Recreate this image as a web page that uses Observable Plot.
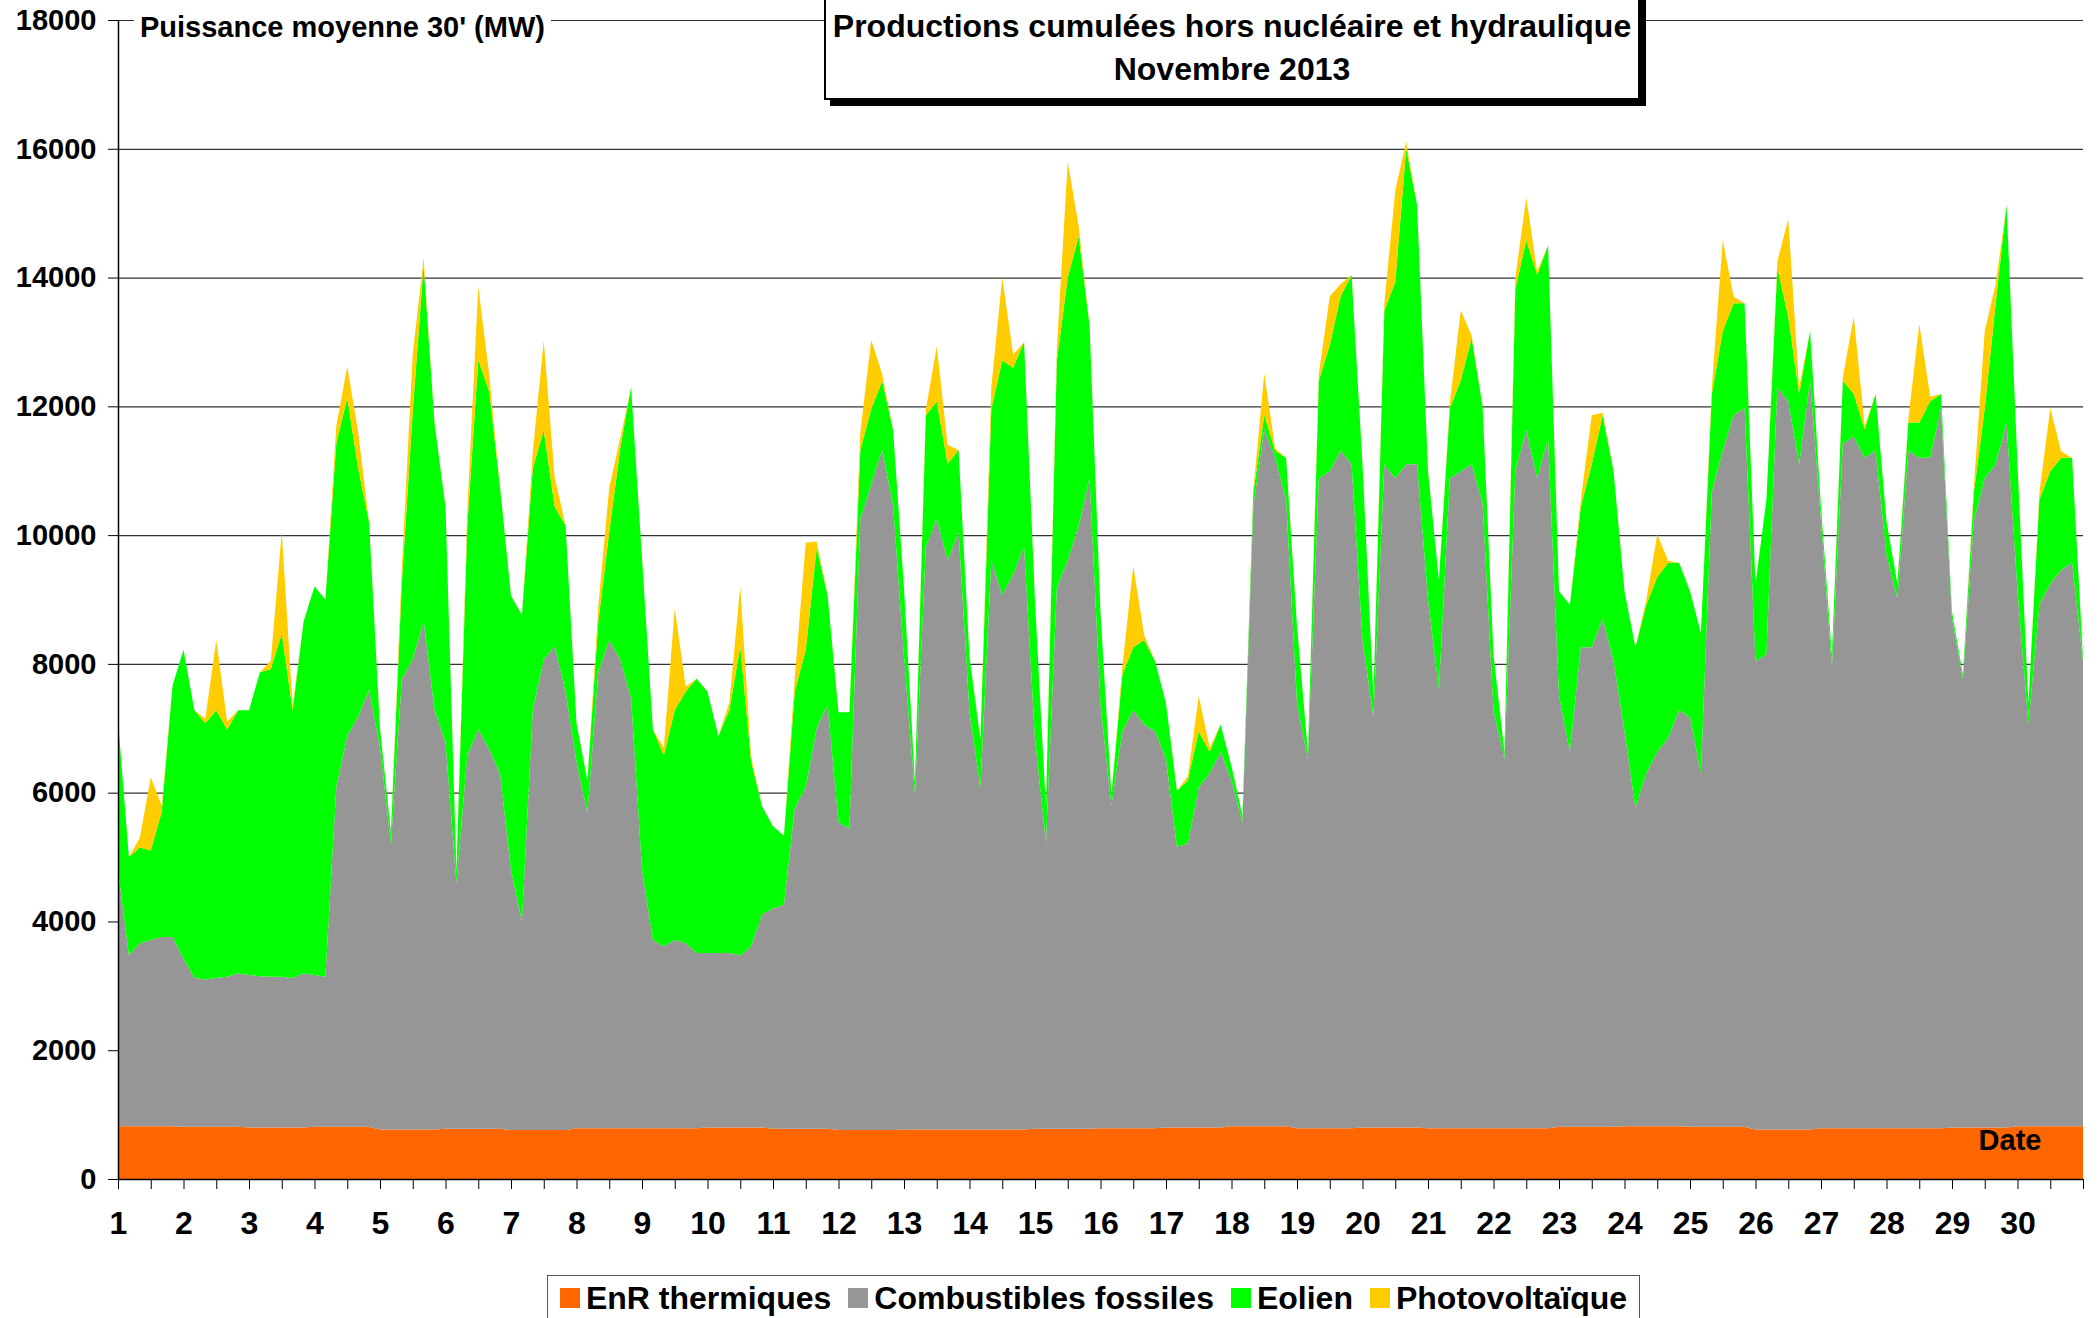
<!DOCTYPE html>
<html>
<head>
<meta charset="utf-8">
<script src="https://cdn.jsdelivr.net/npm/d3@7"></script>
<script src="https://cdn.jsdelivr.net/npm/@observablehq/plot@0.6"></script>
<style>
  html, body { margin: 0; padding: 0; background: #fff; }
  body { width: 2098px; height: 1318px; overflow: hidden; position: relative; font-family: "Liberation Sans", Arial, sans-serif; font-weight: bold; color: #000; }
  #chart { position: absolute; left: 0; top: 0; }
  .ov { position: absolute; white-space: nowrap; z-index: 2; }
  #ylab { left: 134px; top: 9px; font-size: 29px; line-height: 36px; background: #fff; padding: 0 6px; }
  #title { left: 824px; top: -10px; width: 816px; height: 110px; box-sizing: border-box; border: 2px solid #000; background: #fff; box-shadow: 6px 6px 0 #000; text-align: center; font-size: 32px; line-height: 43px; padding-top: 13px; }
  #date { left: 2010px; top: 1122px; transform: translateX(-50%); font-size: 29px; line-height: 36px; }
  #legend { left: 547px; top: 1275px; width: 1093px; height: 70px; box-sizing: border-box; border: 1px solid #555; background: #fff; display: flex; align-items: flex-start; justify-content: center; padding-top: 4px; gap: 17px; font-size: 32px; line-height: 36px; }
  .item { display: flex; align-items: center; }
  .sw { width: 20px; height: 20px; margin-right: 6px; }
</style>
</head>
<body>
<div id="chart"></div>
<div class="ov" id="ylab">Puissance moyenne 30' (MW)</div>
<div class="ov" id="title">Productions cumulées hors nucléaire et hydraulique<br>Novembre 2013</div>
<div class="ov" id="date">Date</div>
<div class="ov" id="legend"></div>
<script>
// Series names and colours
const seriesNames = ["EnR thermiques", "Combustibles fossiles", "Eolien", "Photovoltaïque"];
const seriesColors = ["#FF6600", "#969696", "#00FF00", "#FFCC00"];

// Day labels (1..30) and y ticks
const dayLabels = [1,2,3,4,5,6,7,8,9,10,11,12,13,14,15,16,17,18,19,20,21,22,23,24,25,26,27,28,29,30];
const yTicks = [0,2000,4000,6000,8000,10000,12000,14000,16000,18000];

// Samples each day at 0h, 4h, 8h, 12h, 16h, 20h, plus the end of the month (MW)
const enrDaily = [820,810,800,810,770,780,760,790,790,800,780,760,770,770,780,790,800,820,790,800,790,790,810,820,810,770,790,790,800,820];

const fossil = [
  3980,2650,2840,2890,2940,2940,
  2610,2310,2290,2310,2330,2380,
  2370,2350,2340,2340,2320,2390,
  2360,2330,5280,6070,6370,6790,
  5930,4430,7000,7300,7890,6510,
  6000,3820,5800,6200,5900,5510,
  4040,3240,6520,7310,7510,6810,
  5690,4900,7080,7580,7280,6680,
  4010,2920,2820,2920,2870,2720,
  2710,2710,2710,2670,2810,3310,
  3420,3480,4980,5300,6220,6580,
  4780,4680,9490,10030,10560,9700,
  7340,5200,9050,9480,8840,9270,
  6480,5310,8840,8300,8620,9050,
  6050,4440,8400,8830,9360,10110,
  6570,5010,6160,6490,6270,6160,
  5720,4360,4410,5280,5500,5830,
  5370,4720,9620,10820,10380,9730,
  6600,5730,10090,10200,10520,10310,
  7570,6370,10300,10080,10300,10300,
  8210,6810,10090,10200,10310,9710,
  6490,5730,10200,10850,10090,10710,
  6690,5820,7450,7450,7890,7230,
  6130,4940,5480,5810,6030,6460,
  6360,5490,9850,10500,11050,11160,
  7270,7380,11530,11310,10330,11630,
  9430,7150,10630,10740,10410,10520,
  8890,8230,10520,10410,10410,11180,
  7900,6970,9420,10080,10300,10950,
  8310,6240,8100,8420,8640,8750,
  7220
];

const wind = [
  2330,1530,1490,1390,1940,3910,
  4800,4160,3980,4160,3840,4090,
  4110,4720,4780,5330,4160,5470,
  6030,5860,5340,5250,3860,2600,
  300,200,1490,3860,5540,4450,
  3660,200,3570,5740,5550,4450,
  4260,4760,3760,3560,2170,2580,
  600,500,790,1680,3270,4830,
  4850,3270,2970,3570,3910,4260,
  4060,3370,3770,4800,2870,1680,
  1280,1070,1820,2140,2800,1710,
  1710,1810,1070,1170,1070,1180,
  1070,210,2040,1820,1500,1280,
  860,750,2350,3640,3210,3180,
  2140,540,3530,4390,4500,2360,
  1440,170,880,980,1310,1090,
  870,870,980,870,330,430,
  220,110,220,220,110,650,
  1200,110,1520,1960,2400,2940,
  2730,330,2390,3050,4900,4030,
  2000,1700,1090,1410,1960,1500,
  870,110,2830,2940,3160,3000,
  1630,2290,2180,2840,3160,2950,
  2180,2500,2620,2720,2720,2290,
  1960,2180,1530,1860,1740,1630,
  1200,2400,1850,1310,1090,770,
  220,210,980,660,440,880,
  540,220,440,550,880,220,
  110,60,440,1090,2500,3380,
  1970,330,1630,1750,1740,1630,
  50
];

const solar = [
  0,0,150,1140,100,0,
  0,0,70,1090,120,0,
  0,0,130,1580,70,0,
  0,0,270,490,560,0,
  0,0,240,890,100,0,
  0,0,250,1140,270,0,
  0,0,260,1390,460,0,
  0,0,240,690,160,0,
  0,0,120,1580,80,0,
  0,0,120,930,70,0,
  0,0,220,1660,100,0,
  0,0,280,1070,110,0,
  0,0,90,860,290,0,
  0,0,340,1290,200,0,
  0,0,190,1800,160,0,
  0,0,120,1260,80,0,
  0,0,60,550,70,0,
  0,0,40,650,40,0,
  0,0,100,760,190,0,
  0,0,110,1420,110,0,
  0,0,80,1090,40,0,
  0,0,180,660,60,0,
  0,0,110,760,40,0,
  0,0,80,660,30,0,
  0,0,110,1410,100,0,
  0,0,100,1520,110,0,
  0,0,50,1200,60,0,
  0,0,50,1530,70,0,
  0,0,90,1200,300,0,
  0,0,100,980,100,0,
  0
];

// Build the long table for stacking
const rows = [];
for (let i = 0; i < fossil.length; i++) {
  const t = 1 + i / 6;
  const day = Math.min(Math.floor(i / 6), 29);
  rows.push({t, series: seriesNames[0], value: enrDaily[day]});
  rows.push({t, series: seriesNames[1], value: fossil[i]});
  rows.push({t, series: seriesNames[2], value: wind[i]});
  rows.push({t, series: seriesNames[3], value: solar[i]});
}
const halfTicks = d3.range(1, 31.001, 0.5);

const chart = Plot.plot({
  width: 2098,
  height: 1260,
  marginLeft: 118,
  marginRight: 15,
  marginTop: 20,
  marginBottom: 81,
  x: {domain: [1, 31], axis: null},
  y: {domain: [0, 18000], axis: null},
  color: {domain: seriesNames, range: seriesColors},
  style: {fontFamily: "'Liberation Sans', Arial, sans-serif", fontWeight: "bold", background: "transparent", color: "#000", overflow: "visible"},
  marks: [
    Plot.gridY(yTicks, {stroke: "#000", strokeOpacity: 0.8, strokeWidth: 1.2}),
    Plot.areaY(rows, {x: "t", y: "value", fill: "series", order: seriesNames, curve: "linear"}),
    Plot.axisY(yTicks, {tickSize: 10, tickPadding: 12, fontSize: 29, fontWeight: "bold", label: null, stroke: "#000", tickFormat: d => String(d)}),
    Plot.axisX(halfTicks, {tickSize: 10, text: null, label: null, stroke: "#000"}),
    Plot.axisX(dayLabels, {tickSize: 0, tickPadding: 32, fontSize: 32, fontWeight: "bold", tickFormat: d => String(d), label: null}),
    Plot.ruleX([1], {stroke: "#000", strokeWidth: 1.5}),
    Plot.ruleY([0], {stroke: "#000", strokeWidth: 1.5})
  ]
});
document.getElementById("chart").appendChild(chart);

// Legend
const legend = document.getElementById("legend");
seriesNames.forEach((name, i) => {
  const item = document.createElement("div");
  item.className = "item";
  const sw = document.createElement("span");
  sw.className = "sw";
  sw.style.background = seriesColors[i];
  const label = document.createElement("span");
  label.textContent = name;
  item.appendChild(sw);
  item.appendChild(label);
  legend.appendChild(item);
});
</script>
</body>
</html>
